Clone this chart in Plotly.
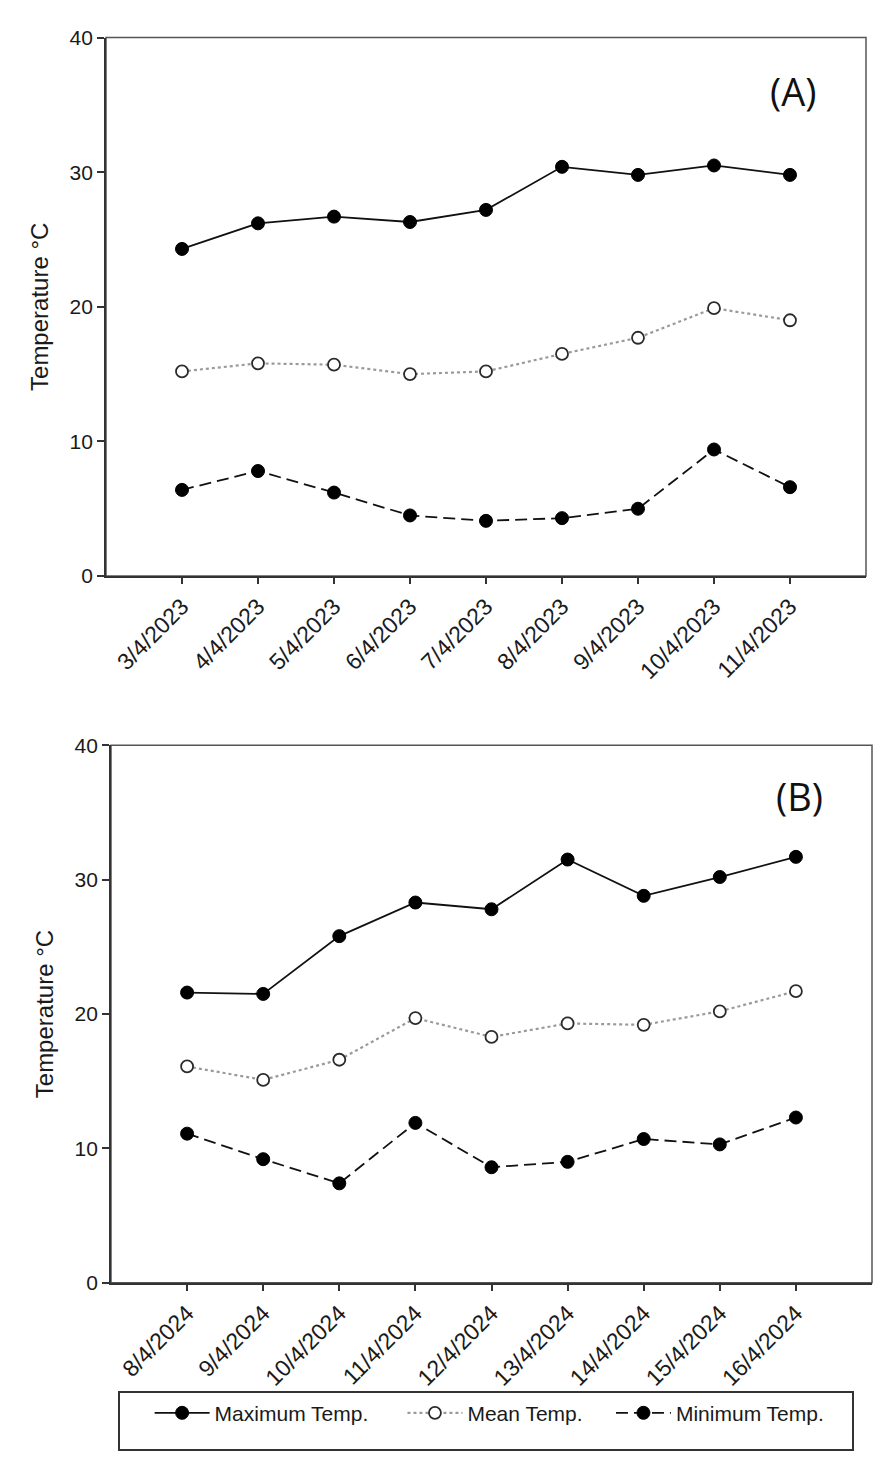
import plotly.graph_objects as go

W, H = 886, 1469

dates_a = ["3/4/2023", "4/4/2023", "5/4/2023", "6/4/2023", "7/4/2023",
           "8/4/2023", "9/4/2023", "10/4/2023", "11/4/2023"]
max_a = [24.3, 26.2, 26.7, 26.3, 27.2, 30.4, 29.8, 30.5, 29.8]
mean_a = [15.2, 15.8, 15.7, 15.0, 15.2, 16.5, 17.7, 19.9, 19.0]
min_a = [6.4, 7.8, 6.2, 4.5, 4.1, 4.3, 5.0, 9.4, 6.6]

dates_b = ["8/4/2024", "9/4/2024", "10/4/2024", "11/4/2024", "12/4/2024",
           "13/4/2024", "14/4/2024", "15/4/2024", "16/4/2024"]
max_b = [21.6, 21.5, 25.8, 28.3, 27.8, 31.5, 28.8, 30.2, 31.7]
mean_b = [16.1, 15.1, 16.6, 19.7, 18.3, 19.3, 19.2, 20.2, 21.7]
min_b = [11.1, 9.2, 7.4, 11.9, 8.6, 9.0, 10.7, 10.3, 12.3]

series_names = ["Maximum Temp.", "Mean Temp.", "Minimum Temp."]
y_ticks = [0, 10, 20, 30, 40]
y_title = "Temperature °C"

FONT = "Liberation Sans, Arial, sans-serif"
NB = "\u00a0"
legend_pads = [NB * 5, NB * 4, NB * 4]


def px_x(p):
    return p / W


def px_y(p):
    return 1 - p / H


fig = go.Figure()

styles = [
    dict(line=dict(color="#111111", width=1.8, dash="solid"),
         marker=dict(symbol="circle", size=13, color="#000000",
                     line=dict(color="#000000", width=1))),
    dict(line=dict(color="#9a9a9a", width=2.2, dash="dot"),
         marker=dict(symbol="circle", size=12, color="#ffffff",
                     line=dict(color="#2a2a2a", width=1.8))),
    dict(line=dict(color="#111111", width=1.8, dash="12px,6px"),
         marker=dict(symbol="circle", size=13, color="#000000",
                     line=dict(color="#000000", width=1))),
]

for i, (name, ys) in enumerate(zip(series_names, [max_a, mean_a, min_a])):
    fig.add_trace(go.Scatter(x=dates_a, y=ys, mode="lines+markers",
                             name=name + legend_pads[i], xaxis="x", yaxis="y",
                             showlegend=True, **styles[i]))
for i, (name, ys) in enumerate(zip(series_names, [max_b, mean_b, min_b])):
    fig.add_trace(go.Scatter(x=dates_b, y=ys, mode="lines+markers",
                             name=name + legend_pads[i], xaxis="x2", yaxis="y2",
                             showlegend=False, **styles[i]))

# panel geometry (pixels)
A = dict(l=106, r=866, t=26, b=573)
B = dict(l=111, r=872, t=745, b=1291)


def x_axis(P, anchor):
    return dict(domain=[px_x(P["l"]), px_x(P["r"])], anchor=anchor,
                type="category", range=[-1, 9], tickangle=-45,
                showgrid=False, zeroline=False, showline=True,
                linecolor="#333333", linewidth=1.8, ticks="outside",
                ticklen=6, tickwidth=1.6, tickcolor="#333333",
                tickfont=dict(family=FONT, size=23, color="#1a1a1a"))


def y_axis(P, anchor):
    return dict(domain=[px_y(P["b"]), px_y(P["t"])], anchor=anchor,
                range=[0, 40], tickvals=y_ticks,
                showgrid=False, zeroline=False, showline=True,
                linecolor="#333333", linewidth=1.8, ticks="outside",
                ticklen=7, tickwidth=1.6, tickcolor="#333333",
                tickfont=dict(family=FONT, size=21, color="#1a1a1a"),
                title=dict(text=y_title, standoff=14,
                           font=dict(family=FONT, size=24, color="#1a1a1a")))


fig.update_layout(
    width=W, height=H,
    margin=dict(l=0, r=0, t=0, b=0),
    paper_bgcolor="white", plot_bgcolor="white",
    font=dict(family=FONT, color="#1a1a1a"),
    xaxis=x_axis(A, "y"), yaxis=y_axis(A, "x"),
    xaxis2=x_axis(B, "y2"), yaxis2=y_axis(B, "x2"),
    legend=dict(orientation="h", x=px_x(118), y=px_y(1401),
                xanchor="left", yanchor="top",
                bordercolor="#333333", borderwidth=1.6,
                font=dict(family=FONT, size=21, color="#1a1a1a"),
                title=dict(text=NB * 2, side="left",
                           font=dict(family=FONT, size=36)),
                itemwidth=55, tracegroupgap=0,
                itemsizing="trace", valign="middle"),
    showlegend=True,
)

# frame (top and right borders)
for P in (A, B):
    fig.add_shape(type="rect", xref="paper", yref="paper",
                  x0=px_x(P["l"]), x1=px_x(P["r"]),
                  y0=px_y(P["b"]), y1=px_y(P["t"]),
                  line=dict(color="#555555", width=1.5), layer="below")

fig.add_annotation(text="(A)", xref="paper", yref="paper",
                   x=px_x(793), y=px_y(80), xanchor="center", yanchor="middle",
                   showarrow=False,
                   font=dict(family="Open Sans, Noto Sans, sans-serif", size=38,
                             color="#111111"))
fig.add_annotation(text="(B)", xref="paper", yref="paper",
                   x=px_x(799), y=px_y(796), xanchor="center", yanchor="middle",
                   showarrow=False,
                   font=dict(family="Open Sans, Noto Sans, sans-serif", size=38,
                             color="#111111"))

fig.write_html("out.html", config={"displayModeBar": False},
               post_script="document.body.style.margin='0';")
